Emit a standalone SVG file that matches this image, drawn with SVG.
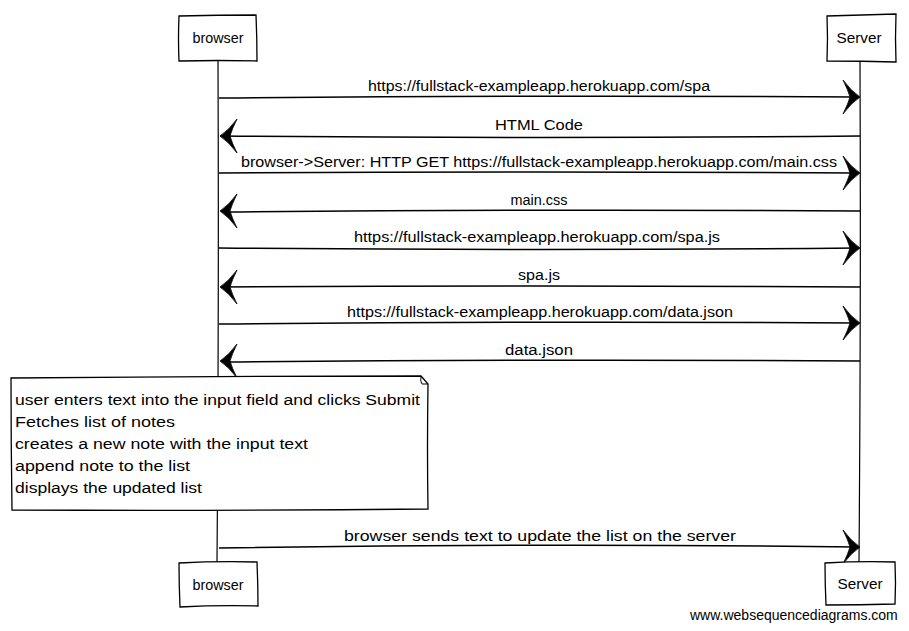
<svg xmlns="http://www.w3.org/2000/svg" width="909" height="631" viewBox="0 0 909 631">
<style>
.box{fill:#fff;stroke:#000;stroke-width:1.3;}
.life{fill:none;stroke:#000;stroke-width:1.2;}
.msg{fill:none;stroke:#000;stroke-width:1.5;}
.head{fill:#000;stroke:#000;stroke-width:0.8;stroke-linejoin:round;}
.t{font-family:"Liberation Sans","DejaVu Sans",sans-serif;font-size:14px;fill:#000;}
.wm{font-family:"Liberation Sans","DejaVu Sans",sans-serif;font-size:14px;fill:#000;}
</style>
<defs>
<path id="hr" d="M0,0 Q-9,-6 -17,-17 Q-12,-7 -10,0 Q-12,7 -17,17 Q-9,6 0,0 Z"/>
<path id="hl" d="M0,0 Q9,-6 17,-17 Q12,-7 10,0 Q12,7 17,17 Q9,6 0,0 Z"/>
</defs>
<rect width="909" height="631" fill="#fff"/>
<g id="lifelines">
<path class="life" d="M218,61 Q219,300 217,562"/>
<path class="life" d="M860,62 Q861,300 859,562"/>
</g>
<g id="connectors">
<path class="msg" d="M219,98 Q540,95 857,97"/>
<use href="#hr" class="head" x="860" y="97"/>
<text class="t" x="539" y="91" text-anchor="middle" textLength="342" lengthAdjust="spacingAndGlyphs">https://fullstack-exampleapp.herokuapp.com/spa</text>

<path class="msg" d="M860,136 Q540,139 223,136"/>
<use href="#hl" class="head" x="220" y="136"/>
<text class="t" x="539" y="130" text-anchor="middle" textLength="88" lengthAdjust="spacingAndGlyphs">HTML Code</text>

<path class="msg" d="M219,173 Q540,171 857,173"/>
<use href="#hr" class="head" x="860" y="173"/>
<text class="t" x="539" y="167" text-anchor="middle" textLength="596" lengthAdjust="spacingAndGlyphs">browser-&gt;Server: HTTP GET https://fullstack-exampleapp.herokuapp.com/main.css</text>

<path class="msg" d="M860,211 Q540,209 223,212"/>
<use href="#hl" class="head" x="220" y="211"/>
<text class="t" x="539" y="205" text-anchor="middle" textLength="57" lengthAdjust="spacingAndGlyphs">main.css</text>

<path class="msg" d="M219,248 Q540,251 857,248"/>
<use href="#hr" class="head" x="860" y="248"/>
<text class="t" x="537" y="242" text-anchor="middle" textLength="366" lengthAdjust="spacingAndGlyphs">https://fullstack-exampleapp.herokuapp.com/spa.js</text>

<path class="msg" d="M860,287 Q540,285 223,287"/>
<use href="#hl" class="head" x="220" y="287"/>
<text class="t" x="539" y="280" text-anchor="middle" textLength="42" lengthAdjust="spacingAndGlyphs">spa.js</text>

<path class="msg" d="M219,324 Q540,321 857,323"/>
<use href="#hr" class="head" x="860" y="323"/>
<text class="t" x="540" y="317" text-anchor="middle" textLength="386" lengthAdjust="spacingAndGlyphs">https://fullstack-exampleapp.herokuapp.com/data.json</text>

<path class="msg" d="M860,361 Q540,359 223,362"/>
<use href="#hl" class="head" x="220" y="361"/>
<text class="t" x="539" y="355" text-anchor="middle" textLength="68" lengthAdjust="spacingAndGlyphs">data.json</text>

<path class="msg" d="M219,548 Q540,543 857,547"/>
<use href="#hr" class="head" x="860" y="547"/>
<text class="t" x="540" y="541" text-anchor="middle" textLength="392" lengthAdjust="spacingAndGlyphs">browser sends text to update the list on the server</text>
</g>
<g id="note">
<path class="box" d="M11,378 Q220,376 421,376 L428,384 Q427,450 428,509 Q220,511 12,510 Q11,445 11,378 Z"/>
<path fill="none" stroke="#000" stroke-width="1" d="M421,376 Q420,382 422,384 L428,384"/>
<text class="t" x="15" y="405" textLength="405" lengthAdjust="spacingAndGlyphs">user enters text into the input field and clicks Submit</text>
<text class="t" x="15" y="427" textLength="160" lengthAdjust="spacingAndGlyphs">Fetches list of notes</text>
<text class="t" x="15" y="449" textLength="293" lengthAdjust="spacingAndGlyphs">creates a new note with the input text</text>
<text class="t" x="15" y="471" textLength="175" lengthAdjust="spacingAndGlyphs">append note to the list</text>
<text class="t" x="15" y="493" textLength="187" lengthAdjust="spacingAndGlyphs">displays the updated list</text>
</g>
<g id="browser-top">
<path class="box" d="M179,16 Q218,15 256,15 Q257,38 257,61 Q218,60 179,61 Q178,38 179,16 Z"/>
<text class="t" x="218" y="43" text-anchor="middle" textLength="51" lengthAdjust="spacingAndGlyphs">browser</text>
</g>
<g id="server-top">
<path class="box" d="M827,16 Q862,15 896,14 Q895,38 896,62 Q862,61 827,61 Q828,38 827,16 Z"/>
<text class="t" x="859" y="43" text-anchor="middle" textLength="45" lengthAdjust="spacingAndGlyphs">Server</text>
</g>
<g id="browser-bottom">
<path class="box" d="M179,563 Q218,561 257,562 Q258,585 258,606 Q218,605 180,607 Q179,585 179,563 Z"/>
<text class="t" x="218" y="590" text-anchor="middle" textLength="51" lengthAdjust="spacingAndGlyphs">browser</text>
</g>
<g id="server-bottom">
<path class="box" d="M825,563 Q860,561 895,562 Q896,583 895,604 Q860,605 826,605 Q825,584 825,563 Z"/>
<text class="t" x="860" y="589" text-anchor="middle" textLength="45" lengthAdjust="spacingAndGlyphs">Server</text>
</g>
<text class="wm" x="690" y="620">www.websequencediagrams.com</text>
</svg>
